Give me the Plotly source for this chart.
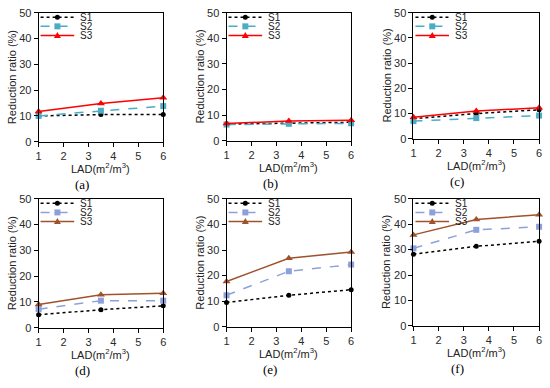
import plotly.graph_objects as go

W, H = 550, 388

lad = [1, 3.5, 6]
series_names = ["S1", "S2", "S3"]
panel_labels = ["(a)", "(b)", "(c)", "(d)", "(e)", "(f)"]

s1_values = [
    [10.0, 10.5, 10.5],
    [6.5, 6.8, 7.2],
    [8.0, 10.0, 11.5],
    [5.0, 7.0, 8.5],
    [9.5, 12.3, 14.5],
    [28.2, 31.3, 33.3],
]
s2_values = [
    [10.0, 12.0, 13.8],
    [6.3, 6.6, 6.8],
    [7.0, 8.2, 9.2],
    [7.2, 10.5, 10.5],
    [12.3, 21.7, 24.3],
    [30.5, 37.8, 39.0],
]
s3_values = [
    [11.7, 14.8, 17.0],
    [6.7, 7.7, 8.0],
    [8.5, 11.0, 12.3],
    [9.0, 12.8, 13.4],
    [17.7, 26.8, 29.2],
    [35.8, 41.9, 43.7],
]

y_ticks = [0, 10, 20, 30, 40, 50]
x_ticks = [1, 2, 3, 4, 5, 6]

# pixel boxes of panels: (left, right, top, bottom)
boxes = [
    (36, 162, 7, 140),
    (226, 352, 7, 139),
    (415, 542, 7, 137),
    (36, 162, 199, 332),
    (226, 352, 199, 331),
    (415, 542, 199, 330),
]

top_colors = ["#000000", "#4BACC6", "#FF0000"]
bot_colors = ["#000000", "#8EA0DC", "#A0522D"]
dashes = ["dot", "dash", "solid"]
symbols = ["circle", "square", "triangle-up"]
msizes = [5, 6, 7]

def fx(px):
    return px / W

def fy(py):
    return 1 - py / H

fig = go.Figure()
shapes = []
annotations = []
font_main = "Arial, Liberation Sans, sans-serif"

for i in range(6):
    l, r, t, b = boxes[i]
    ax = "" if i == 0 else str(i + 1)
    colors = top_colors if i < 3 else bot_colors
    vals = [s1_values[i], s2_values[i], s3_values[i]]
    for k in range(3):
        fig.add_trace(go.Scatter(
            x=lad, y=vals[k], mode="lines+markers", name=series_names[k],
            xaxis="x" + ax, yaxis="y" + ax, showlegend=False, cliponaxis=False,
            line=dict(color=colors[k], width=1.5, dash=dashes[k]),
            marker=dict(symbol=symbols[k], size=msizes[k], color=colors[k]),
        ))
    axis_common = dict(showline=True, linecolor="#000000", linewidth=1, mirror=True,
                       showgrid=False, zeroline=False, ticks="outside", ticklen=4,
                       tickcolor="#000000", tickfont=dict(family=font_main, size=11, color="#2a2a2a"))
    fig.update_layout({
        "xaxis" + ax: dict(domain=[fx(l), fx(r)], range=[1, 6], tickvals=x_ticks,
                           anchor="y" + ax, **axis_common),
        "yaxis" + ax: dict(domain=[fy(b), fy(t)], range=[0, 50], tickvals=y_ticks,
                           anchor="x" + ax, **axis_common),
    })
    hpx = b - t
    # y-axis title
    annotations.append(dict(text="Reduction ratio (%)", x=fx(l - 27), y=fy((t + b) / 2),
                            xref="paper", yref="paper", textangle=-90, showarrow=False,
                            font=dict(family=font_main, size=11, color="#222222"),
                            xanchor="center", yanchor="middle"))
    # x-axis title
    annotations.append(dict(text="LAD(m<sup>2</sup>/m<sup>3</sup>)", x=fx((l + r) / 2), y=fy(b + 27),
                            xref="paper", yref="paper", showarrow=False,
                            font=dict(family=font_main, size=11, color="#222222"),
                            xanchor="center", yanchor="middle"))
    # panel label
    annotations.append(dict(text=panel_labels[i], x=fx(l - 14 + (r - l + 14) / 2 - 12), y=fy(b + 44),
                            xref="paper", yref="paper", showarrow=False,
                            font=dict(family="Liberation Serif, serif", size=13, color="#000000"),
                            xanchor="center", yanchor="middle"))
    # in-plot legend
    xr = "x" + ax + " domain"
    yr = "y" + ax + " domain"
    wpx = r - l
    for k in range(3):
        yoff = 4.5 + 9.5 * k
        yd = 1 - yoff / hpx
        shapes.append(dict(type="line", xref=xr, yref=yr, x0=2 / wpx, x1=36 / wpx, y0=yd, y1=yd,
                           line=dict(color=colors[k], width=1.5, dash=dashes[k])))
        cx = 19 / wpx
        if k == 0:
            shapes.append(dict(type="circle", xref=xr, yref=yr, xsizemode="pixel", ysizemode="pixel",
                               xanchor=cx, yanchor=yd, x0=-2.5, x1=2.5, y0=-2.5, y1=2.5,
                               fillcolor=colors[k], line=dict(width=0)))
        elif k == 1:
            shapes.append(dict(type="rect", xref=xr, yref=yr, xsizemode="pixel", ysizemode="pixel",
                               xanchor=cx, yanchor=yd, x0=-3, x1=3, y0=-3, y1=3,
                               fillcolor=colors[k], line=dict(width=0)))
        else:
            shapes.append(dict(type="path", xref=xr, yref=yr, xsizemode="pixel", ysizemode="pixel",
                               xanchor=cx, yanchor=yd, path="M -3.5 -2.5 L 3.5 -2.5 L 0 3.5 Z",
                               fillcolor=colors[k], line=dict(width=0)))
        annotations.append(dict(text=series_names[k], xref=xr, yref=yr, x=40 / wpx, y=yd,
                                showarrow=False, xanchor="left", yanchor="middle",
                                font=dict(family=font_main, size=10, color="#222222")))

fig.update_layout(width=W, height=H, margin=dict(l=0, r=0, t=0, b=0),
                  paper_bgcolor="white", plot_bgcolor="white", showlegend=False,
                  shapes=shapes, annotations=annotations)

fig.write_html("out.html", config={"displayModeBar": False},
               post_script="document.body.style.margin='0';document.body.style.overflow='hidden';")
